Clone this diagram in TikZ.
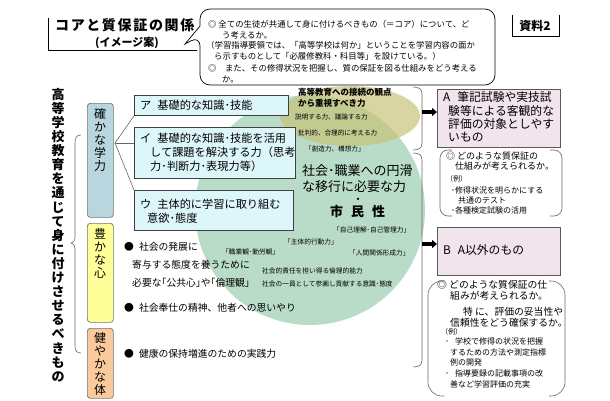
\documentclass[tikz,border=0pt]{standalone}
\usepackage{fontspec}
\setmainfont{Noto Sans CJK JP}
\newfontfamily\spaced{Noto Sans CJK JP}[LetterSpace=12]
\usetikzlibrary{arrows.meta}
\newcommand{\fs}[2]{\fontsize{#1}{#2}\selectfont}
\definecolor{subfill}{RGB}{221,246,250}
\definecolor{kakufill}{RGB}{183,214,221}
\definecolor{yutafill}{RGB}{255,255,153}
\definecolor{sukofill}{RGB}{250,201,156}
\definecolor{pinkfill}{RGB}{242,228,236}
\definecolor{circfill}{RGB}{184,220,199}
\definecolor{ellfill}{RGB}{200,194,118}
\tikzset{
 txt/.style={anchor=west, inner sep=0pt},
 subbox/.style={draw=black!75, line width=0.9pt, fill=subfill, anchor=north west, inner sep=0pt},
 catbox/.style={draw=black!55, rounded corners=3pt, line width=0.7pt, anchor=north west, inner sep=0pt, minimum width=26},
 pinkbox/.style={draw=black!65, line width=1.2pt, fill=pinkfill, anchor=north west, inner sep=0pt, minimum width=123},
 bigarrow/.style={line width=3.2pt, -{Triangle[length=5pt,width=8pt]}},
 bracketline/.style={draw=black!60, line width=0.6pt},
 vtext/.style={align=center, inner sep=0pt},
}
\begin{document}
\begin{tikzpicture}[x=1pt,y=-1pt]
\useasboundingbox (0,0) rectangle (610,400);
\fill[white] (0,0) rectangle (610,400);

% title
\draw[line width=0.8pt] (48,18) -- (48,50) -- (197,50);
\node[txt, font=\spaced\bfseries\fs{14}{14}] (title) at (55,25) {コアと質保証の関係};
\node[inner sep=0pt, font=\bfseries\fs{11}{11}] (subtitle) at (127,43) {(イメージ案)};

% speech bubble
\draw[line width=0.7pt, rounded corners=10pt] (200,36) [sharp corners]-- (185,44) -- (200,26) [rounded corners=10pt]-- (200,9) -- (495,9) -- (495,85) -- (200,85) -- cycle;
\begin{scope}[every node/.style={txt, font=\fs{8.4}{8.4}}]
\node (q1) at (208,24) {◎ 全ての生徒が共通して身に付けるべきもの（＝コア）について、ど};
\node (q2) at (222,35) {う考えるか。};
\node (q3) at (206,45) {（学習指導要領では、「高等学校は何か」ということを学習内容の面か};
\node (q4) at (214,56) {ら示すものとして「必履修教科・科目等」を設けている。）};
\node (q5) at (208,68) {◎　また、その修得状況を把握し、質の保証を図る仕組みをどう考える};
\node (q6) at (222,79) {か。};
\end{scope}

% shiryo
\draw[line width=0.8pt] (512,15) -- (512,36) -- (559,36) -- (559,15);
\node[inner sep=0pt, font=\bfseries\fs{12}{12}] (shiryo) at (535,26) {資料2};

% big circle and ellipse
\fill[circfill] (310,210) circle[radius=115];
\fill[ellfill, fill opacity=0.68] (350,116) ellipse[x radius=70, y radius=30];

% main vertical text
\node[vtext, font=\bfseries\fs{13}{14.1}] (vmain) at (58,235) {高\\等\\学\\校\\教\\育\\を\\通\\じ\\て\\身\\に\\付\\け\\さ\\せ\\る\\べ\\き\\も\\の};

% left brace
\draw[bracketline] (81,135) .. controls (76,135) and (75,138) .. (75,144) -- (75,237) .. controls (75,241) and (73,243) .. (71,243) .. controls (73,243) and (75,245) .. (75,249) -- (75,346) .. controls (75,351) and (77,353) .. (81,353);

% category boxes
\node[catbox, fill=kakufill, minimum height=114] (kaku) at (87,103) {};
\node[vtext, font=\fs{12}{13}] (kakut) at (100,140) {確\\か\\な\\学\\力};
\node[catbox, fill=yutafill, minimum height=99] (yuta) at (87,223) {};
\node[vtext, font=\fs{12}{13}] (yutat) at (100,253) {豊\\か\\な\\心};
\node[catbox, fill=sukofill, minimum height=70] (suko) at (87,328) {};
\node[vtext, font=\fs{12}{13}] (sukot) at (100,364) {健\\や\\か\\な\\体};

% sub boxes
\node[subbox, minimum width=154, minimum height=20] (boxA) at (134,95) {};
\node[subbox, minimum width=161, minimum height=51] (boxI) at (134,127) {};
\node[subbox, minimum width=159, minimum height=40] (boxU) at (134,190) {};
\coordinate (fan) at (115,143);
\draw[black!60, line width=0.6pt] (fan) -- (boxA.south west);
\draw[black!60, line width=0.6pt] (fan) -- (fan -| boxI.west);
\draw[black!60, line width=0.6pt] (fan) -- (boxU.north west);
\begin{scope}[every node/.style={txt, font=\fs{11.2}{11.2}}]
\node (tA) at (140,105) {ア\hspace{6pt}基礎的な知識･技能};
\node (tI1) at (140,138) {イ\hspace{6pt}基礎的な知識･技能を活用};
\node (tI2) at (150,152) {して課題を解決する力（思考};
\node (tI3) at (150,166) {力･判断力･表現力等）};
\node (tU1) at (140,204) {ウ\hspace{6pt}主体的に学習に取り組む};
\node (tU2) at (147,218) {意欲･態度};
\end{scope}

% ellipse texts
\node[txt, font=\bfseries\fs{8.5}{8.5}] (e1) at (298,92) {高等教育への接続の観点};
\node[txt, font=\bfseries\fs{8.5}{8.5}] (e2) at (298,103) {から重視すべき力};
\node[txt, font=\fs{6.6}{6.6}] (e3) at (295,117) {説明する力、議論する力};
\node[txt, font=\fs{6.6}{6.6}] (e4) at (298,133) {批判的、合理的に考える力};
\node[txt, font=\fs{6.6}{6.6}] (e5) at (305,149) {「創造力、構想力」};

% center texts
\node[txt, font=\fs{13}{13}] (c1) at (302,171) {社会･職業への円滑};
\node[txt, font=\fs{13}{13}] (c2) at (302,187) {な移行に必要な力};
\node[inner sep=0pt, font=\bfseries\fs{11}{11}] (c3) at (358,201) {･};
\node[txt, font=\bfseries\fs{13}{13}] (c4) at (330,212) {市\hspace{8pt}民\hspace{8pt}性};
\begin{scope}[every node/.style={txt, font=\fs{6.7}{6.7}}]
\node (s1) at (333,230) {「自己理解･自己管理力」};
\node (s2) at (284,242) {「主体的行動力」};
\node (s3) at (222,252) {「職業観･勤労観」};
\node (s4) at (349,253) {「人間関係形成力」};
\node (s5) at (262,271) {社会的責任を担い得る倫理的能力};
\node (s6) at (262,284) {社会の一員として参画し貢献する意識･態度};
\end{scope}

% left bullet texts
\begin{scope}[every node/.style={txt, font=\fs{9.8}{9.8}}]
\node (p1) at (124,247) {●\hspace{5pt}社会の発展に};
\node (p2) at (132,265) {寄与する態度を養うために};
\node (p3) at (132,283) {必要な｢公共心｣や｢倫理観｣};
\node (p4) at (124,308) {●\hspace{5pt}社会奉仕の精神、他者への思いやり};
\node (p5) at (124,354) {●\hspace{5pt}健康の保持増進のための実践力};
\end{scope}

% right braces
\draw[bracketline] (413,87) .. controls (419,87) and (422,89) .. (422,94) -- (422,143) .. controls (422,148) and (419,150) .. (413,150);
\draw[bracketline] (413,153) .. controls (419,153) and (422,155) .. (422,160) -- (422,360) .. controls (422,365) and (419,367) .. (413,367);
\coordinate (tipA) at (422,112);
\coordinate (tipB) at (422,244);

% right boxes
\node[pinkbox, minimum height=58] (RA) at (437,89) {};
\node[pinkbox, minimum height=48] (RB) at (437,227) {};
\draw[bigarrow] (tipA) -- (tipA -| RA.west);
\draw[bigarrow] (tipB) -- (tipB -| RB.west);
\begin{scope}[every node/.style={txt, font=\fs{11.8}{11.8}}]
\node (a1) at (443,97) {A\hspace{7pt}筆記試験や実技試};
\node (a2) at (448,110.5) {験等による客観的な};
\node (a3) at (448,124) {評価の対象としやす};
\node (a4) at (448,137.5) {いもの};
\node (b1) at (443,250) {B\hspace{7pt}A以外のもの};
\end{scope}

% bracket bubble 1
\draw[bracketline, rounded corners=8pt] (452,150) -- (440,150) -- (440,216) -- (452,216);
\draw[bracketline, rounded corners=8pt] (550,150) -- (562,150) -- (562,216) -- (550,216);
\node[txt, font=\fs{9}{9}] (m1) at (446,156) {◎ どのような質保証の};
\node[txt, font=\fs{9}{9}] (m2) at (455,166) {仕組みが考えられるか。};
\node[txt, font=\fs{7}{7}] (m3) at (446,179) {（例）};
\node[txt, font=\fs{8}{8}] (m4) at (451,190) {･修得状況を明らかにする};
\node[txt, font=\fs{8}{8}] (m5) at (458,200) {共通のテスト};
\node[txt, font=\fs{8}{8}] (m6) at (451,210) {･各種検定試験の活用};

% bracket bubble 2
\draw[bracketline, rounded corners=14pt] (444,281) -- (428,281) -- (428,396) -- (444,396);
\draw[bracketline, rounded corners=14pt] (549,281) -- (565,281) -- (565,396) -- (549,396);
\begin{scope}[every node/.style={txt, font=\fs{9.8}{9.8}}]
\node (n1) at (437,285) {◎ どのような質保証の仕};
\node (n2) at (450,296) {組みが考えられるか。};
\node (n3) at (463,312) {特 に、評価の妥当性や};
\node (n4) at (450,323) {信頼性をどう確保するか。};
\end{scope}
\node[txt, font=\fs{7}{7}] (n5) at (441,332) {（例）};
\begin{scope}[every node/.style={txt, font=\fs{8}{8}}]
\node (n6) at (445,341) {･\hspace{6pt}学校で修得の状況を把握};
\node (n7) at (450,352) {するための方法や測定指標};
\node (n8) at (450,362) {例の開発};
\node (n9) at (445,373) {･\hspace{6pt}指導要録の記載事項の改};
\node (n10) at (450,384) {善など学習評価の充実};
\end{scope}
\end{tikzpicture}
\end{document}
